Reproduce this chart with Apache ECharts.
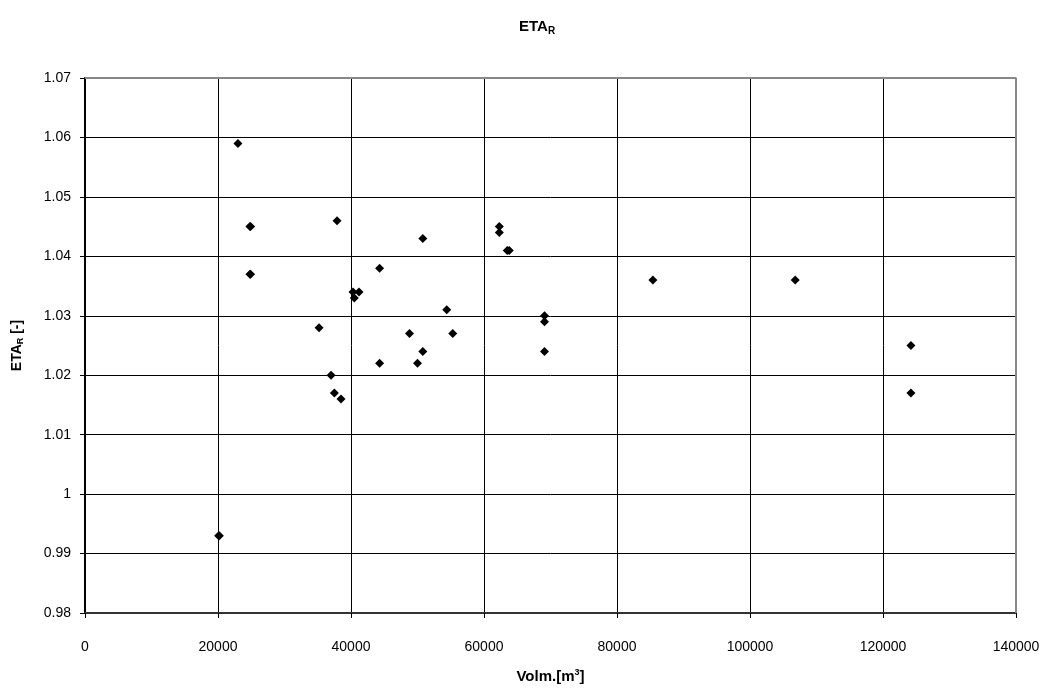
<!DOCTYPE html>
<html>
<head>
<meta charset="utf-8">
<script src="https://cdn.jsdelivr.net/npm/echarts@6/dist/echarts.min.js"></script>
<style>
  html, body { margin: 0; padding: 0; background: #fff; }
  #chart { width: 1050px; height: 688px; }
</style>
</head>
<body>
<div id="chart"></div>
<script>
// volume [m3]
const volumes = [23000, 24800, 24900, 37900, 50800, 24800, 24900, 44300, 40300, 40500,
  41200, 54400, 35200, 48800, 55300, 50800, 44300, 50000, 37000, 37500,
  38500, 62300, 62300, 63500, 63800, 69100, 69100, 69100, 85400, 106800,
  124200, 124200, 20100, 20200];
// ETA_R [-]
const etaR = [1.059, 1.045, 1.045, 1.046, 1.043, 1.037, 1.037, 1.038, 1.034, 1.033,
  1.034, 1.031, 1.028, 1.027, 1.027, 1.024, 1.022, 1.022, 1.020, 1.017,
  1.016, 1.045, 1.044, 1.041, 1.041, 1.030, 1.029, 1.024, 1.036, 1.036,
  1.025, 1.017, 0.993, 0.993];

const points = volumes.map((v, i) => [v, etaR[i]]);
const font = 'Liberation Sans, Arial, sans-serif';

const chart = echarts.init(document.getElementById('chart'));
chart.setOption({
  animation: false,
  backgroundColor: '#fff',
  title: {
    text: '{b|ETA}{s|R}',
    left: 514,
    top: 12,
    textStyle: {
      rich: {
        b: { fontFamily: font, fontSize: 15, fontWeight: 'bold', color: '#000' },
        s: { fontFamily: font, fontSize: 10, fontWeight: 'bold', color: '#000', padding: [9, 0, 0, 0] }
      }
    }
  },
  grid: { left: 85, right: 34, top: 78, bottom: 75, outerBoundsMode: 'none', containLabel: false },
  xAxis: {
    type: 'value',
    min: 0,
    max: 140000,
    interval: 20000,
    name: '{b|Volm.[m}{p|3}{b|]}',
    nameLocation: 'middle',
    nameGap: 55,
    nameTextStyle: {
      rich: {
        b: { fontFamily: font, fontSize: 15, fontWeight: 'bold', color: '#000' },
        p: { fontFamily: font, fontSize: 9, fontWeight: 'bold', color: '#000', padding: [0, 0, 9, 0] }
      }
    },
    axisLine: { show: true, onZero: false, lineStyle: { color: '#333', width: 2 } },
    axisTick: { show: true, length: 5, lineStyle: { color: '#000' } },
    axisLabel: {
      fontFamily: font, fontSize: 14, color: '#000', margin: 27,
      formatter: v => String(v)
    },
    splitLine: { show: true, lineStyle: { color: '#000', width: 1 } }
  },
  yAxis: {
    type: 'value',
    min: 0.98,
    max: 1.07,
    interval: 0.01,
    name: '{b|ETA}{s|R}{b| [-]}',
    nameLocation: 'middle',
    nameGap: 60,
    nameTextStyle: {
      rich: {
        b: { fontFamily: font, fontSize: 14, fontWeight: 'bold', color: '#000' },
        s: { fontFamily: font, fontSize: 9, fontWeight: 'bold', color: '#000', padding: [6, 0, 0, 0] }
      }
    },
    axisLine: { show: true, onZero: false, lineStyle: { color: '#000', width: 2 } },
    axisTick: { show: true, length: 5, lineStyle: { color: '#000' } },
    axisLabel: {
      fontFamily: font, fontSize: 14, color: '#000', margin: 14,
      formatter: v => String(Math.round(v * 100) / 100)
    },
    splitLine: { show: true, lineStyle: { color: '#000', width: 1 } }
  },
  series: [
    {
      type: 'scatter',
      data: points,
      symbol: 'diamond',
      symbolSize: 9,
      itemStyle: { color: '#000', opacity: 1 }
    },
    {
      // grey frame on top and right
      type: 'line',
      data: [[0, 1.07], [140000, 1.07], [140000, 0.98]],
      symbol: 'none',
      silent: true,
      lineStyle: { color: '#888', width: 2 }
    }
  ]
});
</script>
</body>
</html>
